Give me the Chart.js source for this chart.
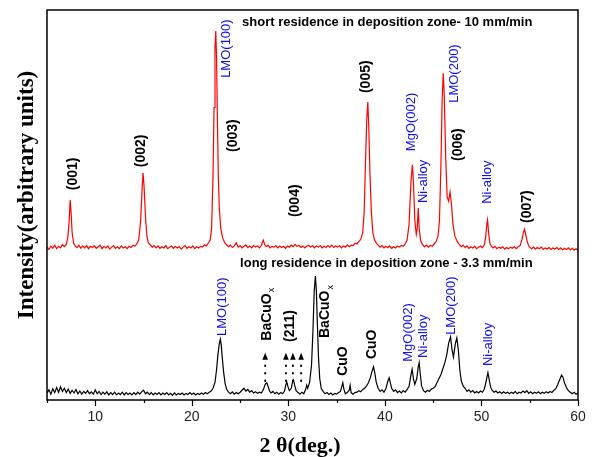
<!DOCTYPE html>
<html>
<head>
<meta charset="utf-8">
<script src="https://cdn.jsdelivr.net/npm/chart.js@4/dist/chart.umd.min.js"></script>
<style>
  body { margin: 0; background: #fff; }
  canvas { display: block; }
</style>
</head>
<body>
<canvas id="xrd" width="598" height="457"></canvas>
<script>
// 2theta / intensity pairs (arbitrary units, offset stacked)
var shortScan = [
  [5.0,39.2],[5.2,38.6],[5.4,39.5],[5.6,38.9],[5.8,39.7],[6.0,38.8],[6.2,39.4],[6.4,39.0],[6.6,39.8],[6.8,39.3],
  [7.0,39.9],[7.15,41.5],[7.3,46],[7.4,51.3],[7.5,48],[7.6,43],[7.75,40.3],[7.9,39.6],[8.1,39.1],[8.3,39.7],
  [8.5,38.9],[8.7,39.5],[8.9,39.0],[9.1,39.6],[9.3,38.8],[9.5,39.4],[9.7,39.1],[9.9,39.6],[10.1,38.9],[10.3,39.3],
  [10.5,39.7],[10.7,38.8],[10.9,39.4],[11.1,39.0],[11.3,39.5],[11.5,38.7],[11.7,39.2],[11.9,39.6],[12.1,38.9],[12.3,39.3],
  [12.5,38.8],[12.7,39.5],[12.9,39.0],[13.1,39.3],[13.3,38.8],[13.5,39.4],[13.7,39.1],[13.9,39.7],[14.1,39.4],[14.3,40.0],
  [14.5,41],[14.7,46],[14.85,54],[14.95,58.2],[15.05,55],[15.2,47],[15.35,42],[15.5,40.2],[15.7,39.8],[15.9,39.2],
  [16.1,39.6],[16.3,39.0],[16.5,39.5],[16.7,38.9],[16.9,39.3],[17.1,39.0],[17.3,39.6],[17.5,38.8],[17.7,39.2],[17.9,39.5],
  [18.1,38.9],[18.3,39.4],[18.5,39.0],[18.7,39.3],[18.9,38.7],[19.1,39.2],[19.3,39.6],[19.5,38.9],[19.7,39.3],[19.9,39.0],
  [20.1,39.5],[20.3,38.8],[20.5,39.3],[20.7,39.0],[20.9,39.4],[21.1,39.2],[21.3,39.8],[21.5,39.5],[21.7,40.2],[21.9,41],
  [22.05,44],[22.2,58],[22.3,75],[22.4,90],[22.48,94.6],[22.56,88],[22.65,72],[22.75,57],[22.85,49],[23.0,44],
  [23.2,41.5],[23.4,40.4],[23.6,39.8],[23.8,39.3],[24.0,39.7],[24.2,39.1],[24.4,39.5],[24.6,40.3],[24.8,39.2],[25.0,39.6],
  [25.2,39.0],[25.4,39.4],[25.6,39.8],[25.8,39.1],[26.0,39.5],[26.2,39.0],[26.4,39.6],[26.6,39.2],[26.8,39.5],[27.0,39.0],
  [27.2,39.6],[27.4,41.0],[27.55,39.8],[27.7,39.3],[27.9,39.7],[28.1,39.0],[28.3,39.4],[28.5,39.2],[28.7,39.6],[28.9,39.0],
  [29.1,39.5],[29.3,39.1],[29.5,39.4],[29.7,38.9],[29.9,39.5],[30.1,39.2],[30.3,39.7],[30.5,39.3],[30.7,39.9],[30.9,39.4],
  [31.1,39.6],[31.3,39.1],[31.5,39.5],[31.7,39.0],[31.9,39.4],[32.1,39.7],[32.3,39.2],[32.5,39.6],[32.7,39.0],[32.9,39.5],
  [33.1,39.2],[33.3,39.6],[33.5,39.0],[33.7,39.4],[33.9,39.1],[34.1,39.6],[34.3,39.2],[34.5,39.7],[34.7,39.1],[34.9,39.5],
  [35.1,39.2],[35.3,39.6],[35.5,39.0],[35.7,39.5],[35.9,39.2],[36.1,39.8],[36.3,39.3],[36.5,39.7],[36.7,39.6],[36.9,40.2],
  [37.1,40.0],[37.3,40.6],[37.5,41.2],[37.7,43],[37.85,48],[38.0,62],[38.12,72],[38.23,76.4],[38.33,70],[38.45,58],
  [38.6,48],[38.75,43],[38.9,41.2],[39.1,40.3],[39.3,39.7],[39.5,39.2],[39.7,39.6],[39.9,39.0],[40.1,39.4],[40.3,39.1],
  [40.5,39.5],[40.7,38.9],[40.9,39.3],[41.1,39.0],[41.3,39.5],[41.5,39.2],[41.7,39.6],[41.9,39.4],[42.1,40.0],[42.3,41],
  [42.5,45],[42.7,56],[42.85,60.3],[42.97,55],[43.1,46],[43.25,42.5],[43.35,44],[43.45,49.2],[43.55,44],[43.7,40.8],
  [43.9,39.8],[44.1,39.3],[44.3,39.7],[44.5,39.2],[44.7,39.6],[44.9,39.4],[45.1,40.0],[45.3,40.6],[45.5,42],[45.65,46],
  [45.8,60],[45.92,76],[46.04,83.8],[46.15,78],[46.3,62],[46.45,52],[46.6,51],[46.75,53.3],[46.9,50],[47.05,45],
  [47.25,42],[47.5,40.6],[47.7,39.9],[47.9,39.3],[48.1,39.7],[48.3,39.1],[48.5,39.5],[48.7,38.9],[48.9,39.3],[49.1,39.0],
  [49.3,39.4],[49.5,38.8],[49.7,39.2],[49.9,39.5],[50.1,39.1],[50.3,39.8],[50.45,42],[50.55,45],[50.63,46.2],[50.72,43.5],
  [50.85,40.4],[51.0,39.5],[51.2,39.0],[51.4,39.4],[51.6,38.8],[51.8,39.2],[52.0,38.9],[52.2,39.3],[52.4,38.7],[52.6,39.1],
  [52.8,38.8],[53.0,39.2],[53.2,38.9],[53.4,39.3],[53.6,38.8],[53.8,39.3],[54.0,39.6],[54.2,41.2],[54.35,43],[54.46,43.8],
  [54.58,42.5],[54.75,40.5],[54.95,39.3],[55.2,38.8],[55.4,39.2],[55.6,38.7],[55.8,39.1],[56.0,38.8],[56.2,39.2],[56.4,38.6],
  [56.6,39.0],[56.8,38.7],[57.0,39.1],[57.2,38.6],[57.4,39.0],[57.6,38.7],[57.8,39.1],[58.0,38.6],[58.2,39.0],[58.4,38.5],
  [58.6,38.9],[58.8,38.6],[59.0,39.0],[59.2,38.5],[59.4,38.9],[59.6,38.4],[59.8,38.8],[60.0,38.4]
];

var longScan = [
  [5.0,1.8],[5.2,2.6],[5.4,1.5],[5.6,2.9],[5.8,1.9],[6.0,3.2],[6.2,2.0],[6.4,3.4],[6.6,2.2],[6.8,3.0],
  [7.0,1.9],[7.2,2.8],[7.4,1.7],[7.6,2.5],[7.8,1.8],[8.0,2.7],[8.2,1.6],[8.4,2.3],[8.6,1.5],[8.8,2.2],
  [9.0,1.7],[9.2,2.4],[9.4,1.6],[9.6,2.1],[9.8,1.5],[10.0,2.6],[10.2,1.6],[10.4,2.2],[10.6,1.4],[10.8,2.0],
  [11.0,1.5],[11.2,2.1],[11.4,1.3],[11.6,1.9],[11.8,1.4],[12.0,2.0],[12.2,1.3],[12.4,1.8],[12.6,1.4],[12.8,2.0],
  [13.0,1.3],[13.2,1.9],[13.4,1.4],[13.6,1.8],[13.8,1.3],[14.0,1.9],[14.2,1.4],[14.4,2.0],[14.6,1.5],[14.8,2.1],
  [15.0,2.5],[15.2,1.6],[15.4,2.0],[15.6,1.4],[15.8,1.9],[16.0,1.3],[16.2,1.8],[16.4,1.4],[16.6,1.9],[16.8,1.3],
  [17.0,1.8],[17.2,1.4],[17.4,1.9],[17.6,1.3],[17.8,1.7],[18.0,1.2],[18.2,1.8],[18.4,1.3],[18.6,1.7],[18.8,1.4],
  [19.0,1.8],[19.2,1.3],[19.4,1.7],[19.6,1.4],[19.8,1.9],[20.0,1.4],[20.2,1.8],[20.4,1.3],[20.6,1.7],[20.8,1.4],
  [21.0,1.8],[21.2,1.5],[21.4,1.9],[21.6,1.6],[21.8,2.0],[22.0,2.3],[22.2,3.0],[22.4,4.5],[22.55,7.5],[22.7,11.5],
  [22.85,14.5],[22.96,15.6],[23.05,14.0],[23.15,11.0],[23.3,7.0],[23.45,4.2],[23.6,2.8],[23.8,2.0],[24.0,1.6],[24.2,2.1],
  [24.4,1.5],[24.6,1.9],[24.8,1.6],[25.0,2.0],[25.2,2.5],[25.4,3.0],[25.6,2.3],[25.8,2.7],[26.0,2.0],[26.2,2.4],
  [26.4,1.8],[26.6,2.1],[26.8,1.7],[27.0,2.0],[27.2,1.8],[27.4,2.6],[27.6,4.0],[27.77,4.4],[27.9,3.5],[28.05,2.3],
  [28.2,1.8],[28.4,2.2],[28.6,1.6],[28.8,2.0],[29.0,1.5],[29.2,1.9],[29.4,1.6],[29.6,2.3],[29.75,4.0],[29.84,4.6],
  [29.95,3.5],[30.1,2.4],[30.3,3.0],[30.45,4.8],[30.53,5.1],[30.65,3.8],[30.8,2.4],[31.0,1.9],[31.2,1.5],[31.4,2.0],
  [31.6,1.6],[31.8,2.8],[31.9,3.8],[32.0,3.0],[32.2,4.5],[32.4,9],[32.55,18],[32.68,28],[32.8,31.8],[32.9,28],
  [33.0,20],[33.12,11],[33.25,5.5],[33.4,3.0],[33.6,2.2],[33.8,1.6],[34.0,1.9],[34.2,1.4],[34.4,1.8],[34.6,1.3],
  [34.8,1.7],[35.0,1.5],[35.2,1.9],[35.4,2.2],[35.55,3.6],[35.64,4.4],[35.75,2.8],[35.9,1.6],[36.1,1.9],[36.3,2.5],
  [36.4,3.8],[36.5,1.9],[36.7,1.5],[36.9,1.9],[37.1,2.0],[37.3,2.4],[37.5,2.1],[37.7,2.7],[37.9,3.0],[38.1,3.6],
  [38.3,4.5],[38.5,5.8],[38.65,7.2],[38.82,8.5],[38.95,7.0],[39.1,4.6],[39.3,3.0],[39.5,2.2],[39.7,2.6],[39.9,2.0],
  [40.1,2.9],[40.3,4.8],[40.44,5.7],[40.55,4.5],[40.7,3.0],[40.9,2.2],[41.1,2.6],[41.3,1.9],[41.5,2.3],[41.7,1.8],
  [41.9,2.4],[42.1,2.0],[42.3,2.7],[42.5,3.5],[42.7,6.5],[42.82,7.9],[42.95,5.5],[43.1,4.0],[43.3,5.5],[43.45,8.5],
  [43.55,9.6],[43.65,7.0],[43.8,3.6],[44.0,2.4],[44.2,2.0],[44.4,2.5],[44.6,2.2],[44.8,2.8],[45.0,3.0],[45.2,3.4],
  [45.4,4.5],[45.6,5.5],[45.8,6.5],[46.0,8.0],[46.2,9.5],[46.4,11.5],[46.6,14.5],[46.8,16.2],[46.95,13.0],[47.1,11.0],
  [47.3,14.5],[47.45,15.9],[47.6,13.0],[47.75,8.0],[47.9,5.0],[48.1,3.6],[48.3,3.0],[48.5,2.2],[48.7,2.6],[48.9,2.0],
  [49.1,2.4],[49.3,1.8],[49.5,2.2],[49.7,1.8],[49.9,2.3],[50.1,2.0],[50.3,2.8],[50.5,5.0],[50.67,7.0],[50.8,5.2],
  [50.95,3.3],[51.1,2.5],[51.3,2.0],[51.5,2.3],[51.7,1.8],[51.9,2.1],[52.1,1.7],[52.3,2.1],[52.5,1.7],[52.7,2.0],
  [52.9,1.6],[53.1,2.0],[53.3,1.7],[53.5,2.2],[53.7,1.6],[53.9,2.0],[54.1,1.8],[54.3,2.3],[54.5,1.9],[54.7,2.4],
  [54.9,1.7],[55.1,2.1],[55.3,1.6],[55.5,2.0],[55.7,1.7],[55.9,2.1],[56.1,1.6],[56.3,2.0],[56.5,1.7],[56.7,2.1],
  [56.9,1.8],[57.1,2.2],[57.3,1.9],[57.5,2.5],[57.7,2.9],[57.9,4.0],[58.1,5.2],[58.3,6.4],[58.45,5.8],[58.6,4.4],
  [58.8,3.2],[59.0,2.4],[59.2,2.0],[59.4,1.6],[59.6,2.0],[59.8,1.5],[60.0,1.8]
];

var xTicks = [10, 20, 30, 40, 50, 60];
var xMinorTicks = [5, 15, 25, 35, 45, 55];

// peak labels: text, 2theta, intensity where the (rotated) text starts, kind
var peakLabels = [
  ['(001)', 7.7, 53.8, 'hkl'], ['(002)', 14.8, 59.7, 'hkl'], ['LMO(100)', 23.55, 82.6, 'phase'],
  ['(003)', 24.25, 63.6, 'hkl'], ['(004)', 30.7, 46.9, 'hkl'], ['(005)', 38.03, 78.7, 'hkl'],
  ['MgO(002)', 42.72, 63.8, 'phase'], ['Ni-alloy', 43.96, 50.5, 'phase'], ['LMO(200)', 47.2, 76.2, 'phase'],
  ['(006)', 47.55, 61.3, 'hkl'], ['Ni-alloy', 50.63, 50.3, 'phase'], ['(007)', 54.77, 45.4, 'hkl'],
  ['LMO(100)', 23.2, 16.4, 'phase'], ['BaCuO|x', 27.77, 15.2, 'hkl'], ['(211)', 30.2, 14.9, 'hkl'],
  ['BaCuO|x', 33.8, 15.9, 'hkl'], ['CuO', 35.64, 6.2, 'hkl'], ['CuO', 38.65, 10.5, 'hkl'],
  ['MgO(002)', 42.45, 9.8, 'phase'], ['Ni-alloy', 43.96, 10.8, 'phase'], ['LMO(200)', 46.9, 16.7, 'phase'],
  ['Ni-alloy', 50.67, 8.7, 'phase']
];

var seriesTitles = [
  ['short residence in deposition zone- 10 mm/min', 25.2, 96.9],
  ['long residence in deposition zone - 3.3 mm/min', 25.0, 34.9]
];

// dotted arrows under the (211) group: 2theta, tail, head
var arrowMarks = [[27.6, 4.9, 11.6], [29.75, 4.9, 11.6], [30.47, 4.9, 11.6], [31.32, 4.9, 11.6]];

var SANS = '"Liberation Sans", Arial, sans-serif';
var SERIF = '"Liberation Serif", "Times New Roman", serif';

var decorations = {
  id: 'decorations',
  afterDraw: function(chart){
    var ctx = chart.ctx;
    var xs = chart.scales.x, ys = chart.scales.y;
    var area = chart.chartArea;

    ctx.save();
    // frame
    ctx.strokeStyle = '#000';
    ctx.lineWidth = 1.5;
    ctx.strokeRect(area.left, area.top, area.right - area.left, area.bottom - area.top);

    // ticks on the bottom axis, pointing out
    ctx.lineWidth = 1.2;
    ctx.beginPath();
    xTicks.forEach(function(t){
      var px = Math.round(xs.getPixelForValue(t)) + 0.5;
      ctx.moveTo(px, area.bottom); ctx.lineTo(px, area.bottom + 6);
    });
    xMinorTicks.forEach(function(t){
      var px = Math.round(xs.getPixelForValue(t)) + 0.5;
      ctx.moveTo(px, area.bottom); ctx.lineTo(px, area.bottom + 3);
    });
    ctx.stroke();

    // series titles
    ctx.fillStyle = '#000';
    ctx.font = 'bold 13px ' + SANS;
    ctx.textBaseline = 'middle';
    ctx.textAlign = 'left';
    seriesTitles.forEach(function(s){
      ctx.fillText(s[0], xs.getPixelForValue(s[1]), ys.getPixelForValue(s[2]));
    });

    // rotated peak labels
    peakLabels.forEach(function(l){
      var px = xs.getPixelForValue(l[1]), py = ys.getPixelForValue(l[2]);
      ctx.save();
      ctx.translate(px, py);
      ctx.rotate(-Math.PI / 2);
      ctx.textBaseline = 'middle';
      ctx.textAlign = 'left';
      if(l[3] === 'phase'){
        ctx.fillStyle = '#1010e0';
        ctx.font = '13px ' + SANS;
      }else{
        ctx.fillStyle = '#000';
        ctx.font = 'bold 14px ' + SANS;
      }
      var parts = l[0].split('|');
      ctx.fillText(parts[0], 0, 0);
      if(parts[1]){
        var w = ctx.measureText(parts[0]).width;
        ctx.font = '9px ' + SANS;
        ctx.fillText(parts[1], w + 1, 5);
      }
      ctx.restore();
    });

    // dotted arrows
    ctx.fillStyle = '#000';
    ctx.strokeStyle = '#000';
    arrowMarks.forEach(function(a){
      var px = xs.getPixelForValue(a[0]);
      var y0 = ys.getPixelForValue(a[1]), y1 = ys.getPixelForValue(a[2]);
      ctx.save();
      ctx.lineWidth = 2;
      ctx.lineCap = 'round';
      ctx.setLineDash([0.5, 7]);
      ctx.beginPath();
      ctx.moveTo(px, y0); ctx.lineTo(px, y1 + 6);
      ctx.stroke();
      ctx.restore();
      ctx.beginPath();
      ctx.moveTo(px, y1 - 2);
      ctx.lineTo(px - 2.8, y1 + 5);
      ctx.lineTo(px + 2.8, y1 + 5);
      ctx.closePath();
      ctx.fill();
    });

    // axis titles
    ctx.fillStyle = '#000';
    ctx.font = 'bold 22px ' + SERIF;
    ctx.textAlign = 'center';
    ctx.textBaseline = 'middle';
    ctx.fillText('2 \u03b8(deg.)', 300, 446);
    ctx.font = 'bold 23px ' + SERIF;
    ctx.save();
    ctx.translate(27, 195);
    ctx.rotate(-Math.PI / 2);
    ctx.fillText('Intensity(arbitrary units)', 0, 0);
    ctx.restore();

    ctx.restore();
  }
};

new Chart(document.getElementById('xrd'), {
  type: 'line',
  data: {
    datasets: [{
      label: 'short residence',
      data: shortScan,
      borderColor: '#ff0000',
      borderWidth: 1.2,
      pointRadius: 0,
      tension: 0,
      fill: false
    }, {
      label: 'long residence',
      data: longScan,
      borderColor: '#000000',
      borderWidth: 1.2,
      pointRadius: 0,
      tension: 0,
      fill: false
    }]
  },
  options: {
    responsive: false,
    animation: false,
    events: [],
    layout: { padding: { left: 47, right: 20, top: 10, bottom: 0 } },
    plugins: { legend: { display: false }, tooltip: { enabled: false } },
    scales: {
      x: {
        type: 'linear',
        min: 5,
        max: 60,
        grid: { display: false, drawTicks: false },
        border: { display: false },
        afterBuildTicks: function(scale){
          scale.ticks = xTicks.map(function(v){ return { value: v }; });
        },
        afterFit: function(scale){ scale.height = 57; },
        ticks: {
          autoSkip: false,
          maxRotation: 0,
          padding: 9,
          color: '#222',
          font: { family: SANS, size: 14 }
        }
      },
      y: {
        display: false,
        min: 0,
        max: 100
      }
    }
  },
  plugins: [decorations]
});
</script>
</body>
</html>
